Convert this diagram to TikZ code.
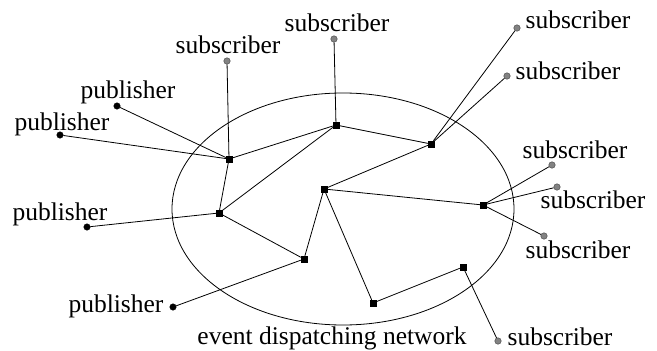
\documentclass[tikz,border=0pt]{standalone}
\usepackage{fontspec}
\setmainfont{Liberation Serif}
\usepackage{tikz}
\usetikzlibrary{shapes.geometric,positioning}
\definecolor{subgray}{RGB}{130, 130, 130}

\begin{document}
\begin{tikzpicture}[
    x=1pt, y=-1pt,
    dispatcher/.style={draw, fill=black, rectangle, inner sep=0pt, minimum size=6pt},
    publisher/.style={draw, fill=black, circle, inner sep=0pt, minimum size=6.5pt},
    subscriber/.style={draw=black!75, fill=subgray, circle, inner sep=0pt, minimum size=6.5pt},
    lbl/.style={anchor=base, inner sep=0pt, font=\fontsize{25.5}{30}\selectfont},
    link/.style={line width=0.8pt}
]
    \useasboundingbox (0,0) rectangle (657,351);

    % the dispatching network
    \draw[link] (343,209) ellipse [x radius=171, y radius=116];
    \node[lbl] (netlbl) at (332,344) {event dispatching network};

    % Dispatchers
    \node[dispatcher] (d1) at (229,159) {};
    \node[dispatcher] (d2) at (336,125) {};
    \node[dispatcher] (d3) at (431,144) {};
    \node[dispatcher] (d4) at (219,213) {};
    \node[dispatcher] (d5) at (324,189) {};
    \node[dispatcher] (d6) at (483,205) {};
    \node[dispatcher] (d7) at (304,259) {};
    \node[dispatcher] (d8) at (373,303) {};
    \node[dispatcher] (d9) at (463,267) {};

    % Publishers
    \node[publisher] (p1) at (117,106) {};
    \node[publisher] (p2) at (60,135) {};
    \node[publisher] (p3) at (87,227) {};
    \node[publisher] (p4) at (173,307) {};

    % Subscribers
    \node[subscriber] (s1) at (227,61) {};
    \node[subscriber] (s2) at (334,39) {};
    \node[subscriber] (s3) at (517,28) {};
    \node[subscriber] (s4) at (507,76) {};
    \node[subscriber] (s5) at (552,165) {};
    \node[subscriber] (s6) at (557,187) {};
    \node[subscriber] (s7) at (544,236) {};
    \node[subscriber] (s8) at (498,341) {};

    % Labels
    \node[lbl] (p1lbl) at (128,98) {publisher};
    \node[lbl] (p2lbl) at (62,130) {publisher};
    \node[lbl] (p3lbl) at (60,220) {publisher};
    \node[lbl] (p4lbl) at (116,312) {publisher};
    \node[lbl] (s1lbl) at (228,53) {subscriber};
    \node[lbl] (s2lbl) at (337,31) {subscriber};
    \node[lbl] (s3lbl) at (578,28) {subscriber};
    \node[lbl] (s4lbl) at (568,79) {subscriber};
    \node[lbl] (s5lbl) at (575,158) {subscriber};
    \node[lbl] (s6lbl) at (593,208) {subscriber};
    \node[lbl] (s7lbl) at (578,258) {subscriber};
    \node[lbl] (s8lbl) at (560,345) {subscriber};

    % Links between dispatchers
    \draw[link] (d1) -- (d2);
    \draw[link] (d2) -- (d3);
    \draw[link] (d1) -- (d4);
    \draw[link] (d4) -- (d2);
    \draw[link] (d4) -- (d7);
    \draw[link] (d7) -- (d5);
    \draw[link] (d5) -- (d3);
    \draw[link] (d5) -- (d6);
    \draw[link] (d5) -- (d8);
    \draw[link] (d8) -- (d9);

    % Links to clients
    \draw[link] (p1) -- (d1);
    \draw[link] (p2) -- (d1);
    \draw[link] (s1) -- (d1);
    \draw[link] (s2) -- (d2);
    \draw[link] (s3) -- (d3);
    \draw[link] (s4) -- (d3);
    \draw[link] (p3) -- (d4);
    \draw[link] (p4) -- (d7);
    \draw[link] (s5) -- (d6);
    \draw[link] (s6) -- (d6);
    \draw[link] (s7) -- (d6);
    \draw[link] (s8) -- (d9);
\end{tikzpicture}
\end{document}
